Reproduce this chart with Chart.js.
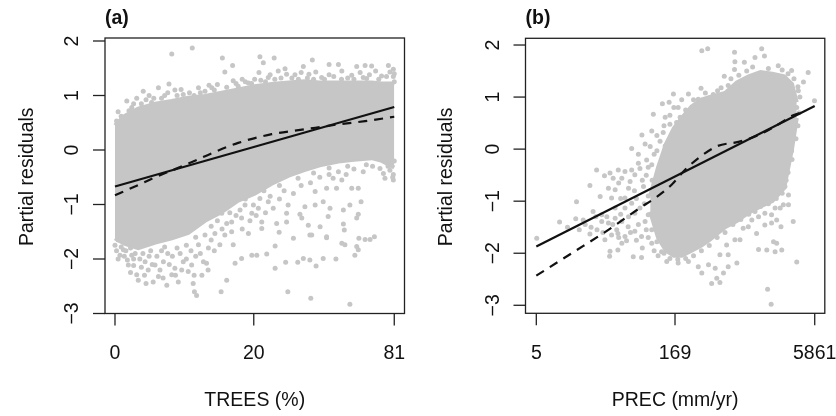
<!DOCTYPE html>
<html>
<head>
<meta charset="utf-8">
<script src="https://cdn.jsdelivr.net/npm/chart.js@4.4.1/dist/chart.umd.min.js"></script>
<style>
  html, body { margin: 0; padding: 0; background: #fff; }
  #wrap { position: relative; width: 836px; height: 416px; }
  canvas { position: absolute; top: 0; }
  #chart-trees { left: 0; }
  #chart-prec { left: 418px; }
</style>
</head>
<body>
<div id="wrap">
  <canvas id="chart-trees" width="418" height="416"></canvas>
  <canvas id="chart-prec" width="418" height="416"></canvas>
</div>
<script>
// ── Data ───────────────────────────────────────
// (a) x axis is sqrt(TREES %), (b) x axis is ln(PREC mm/yr)
const treesTicks = [0, 20, 81];
const precTicks = [5, 169, 5861];
const residTicksA = [-3, -2, -1, 0, 1, 2];
const residTicksB = [-3, -2, -1, 0, 1, 2];

// dense part of the residual cloud: upper / lower edge
const treesCoreX  = [0, 0.3, 0.75, 1.3, 1.83, 2.36, 2.9, 3.44, 3.97, 4.5, 5.05, 5.6, 6.1, 6.6, 7.2, 7.7, 8.27, 8.6, 9.0];
const treesCoreHi = [0.45, 0.62, 0.76, 0.85, 0.90, 0.96, 0.99, 1.05, 1.11, 1.17, 1.21, 1.24, 1.26, 1.24, 1.24, 1.24, 1.24, 1.22, 1.22];
const treesCoreLo = [-1.62, -1.72, -1.80, -1.70, -1.62, -1.52, -1.30, -1.14, -0.93, -0.80, -0.62, -0.47, -0.37, -0.28, -0.21, -0.18, -0.15, -0.20, -0.32];

// sparser residuals around the core
const treesPts = [
  [1.83,1.76],[2.49,1.87],[3.46,1.69],[4.67,1.71],[5.13,1.69],[6.36,1.65],[6.90,1.57],[7.20,1.57],[7.79,1.53],
  [8.06,1.55],[8.27,1.54],[8.81,1.55],[3.79,1.55],[4.78,1.60],[5.48,1.49],[6.07,1.53],[0.91,1.08],[0.38,0.90],
  [1.40,1.14],[1.74,1.21],[1.93,1.10],[2.13,1.11],[2.69,1.14],[3.03,1.19],[3.12,1.14],[3.54,1.43],[3.81,1.27],
  [3.97,1.17],[4.30,1.23],[4.64,1.42],[4.94,1.33],[5.26,1.45],[5.53,1.39],[5.91,1.30],[6.25,1.39],[6.47,1.43],
  [6.66,1.33],[7.31,1.45],[7.63,1.37],[8.11,1.31],[8.59,1.36],[8.86,1.43],[0.05,0.53],[0.54,0.78],[1.18,0.87],
  [2.26,0.90],[3.44,0.99],[0.2,0.62],[0.7,0.95],[1.0,0.92],[1.6,1.0],[2.4,1.05],[2.9,1.08],[3.3,1.2],[4.1,1.3],
  [4.5,1.3],[5.0,1.38],[5.7,1.32],[6.0,1.42],[6.9,1.38],[7.5,1.32],[7.9,1.42],[8.4,1.45],[8.97,1.35],[8.97,1.48],
  [9.0,1.25],
  [0.1,0.7],[0.45,0.72],[0.6,0.85],[0.85,0.85],[1.1,1.0],[1.25,0.95],[1.5,0.95],[1.7,1.05],[2.0,1.0],[2.2,1.02],
  [2.55,1.0],[2.75,1.05],[3.2,1.1],[3.6,1.15],[3.9,1.22],[4.2,1.25],[4.4,1.22],[4.7,1.28],[4.85,1.25],[5.15,1.3],
  [5.35,1.32],[5.8,1.38],[6.2,1.32],[6.4,1.3],[6.75,1.3],[7.05,1.35],[7.3,1.3],[7.7,1.3],[8.0,1.33],[8.2,1.38],
  [8.5,1.3],[8.75,1.35],[9.0,1.4],
  [0.16,-1.93],[0.43,-2.11],[0.70,-2.29],[0.75,-2.39],[1.07,-2.20],[1.23,-2.42],[1.40,-2.32],[1.67,-2.48],
  [1.83,-2.29],[2.04,-2.42],[2.36,-2.23],[2.52,-2.45],[2.56,-2.60],[2.63,-2.67],[2.20,-2.05],[2.47,-2.11],
  [2.95,-2.08],[3.42,-2.60],[3.60,-2.39],[3.87,-2.08],[4.08,-1.99],[4.41,-1.93],[3.81,-1.74],[3.38,-1.74],
  [3.01,-1.80],[2.69,-1.74],[3.22,-1.53],[3.54,-1.56],[2.90,-1.56],[3.76,-1.50],[4.30,-1.53],[4.08,-1.25],
  [3.76,-1.32],[3.44,-1.16],[4.03,-1.10],[4.41,-1.16],[4.19,-1.01],[4.46,-1.01],[0.97,-2.05],[1.29,-2.11],
  [1.56,-2.05],[1.93,-2.17],[0.54,-1.93],[0.27,-1.83],
  [5.57,-2.60],[6.31,-2.72],[7.57,-2.83],[5.16,-2.17],[5.50,-2.06],[5.89,-2.06],[6.07,-1.99],[6.28,-2.02],
  [6.48,-2.13],[6.71,-1.99],[7.12,-2.00],[4.89,-1.91],[4.57,-1.93],[5.16,-1.76],[5.75,-1.62],[6.28,-1.56],
  [6.82,-1.59],[7.31,-1.71],[7.41,-1.74],[7.73,-1.93],[7.84,-1.83],[7.86,-1.62],[8.06,-1.64],[8.22,-1.64],
  [8.36,-1.59],[7.39,-1.47],[7.36,-1.36],[7.79,-1.25],[7.84,-1.18],[7.57,-1.01],[7.93,-0.95],[4.73,-1.32],
  [4.73,-1.44],[5.21,-1.35],[5.29,-1.51],[5.53,-1.32],[5.96,-1.18],[6.02,-1.25],[6.23,-1.38],[6.34,-1.56],
  [6.61,-1.41],[6.82,-1.61],[6.87,-1.22],[6.93,-1.07],[7.36,-1.10],[6.45,-1.01],[6.71,-0.95],[6.12,-1.04],
  [5.58,-1.01],[5.53,-1.16],[5.10,-1.07],[4.94,-0.95],[4.62,-1.07],[4.67,-0.89],[7.14,-0.70],[7.63,-0.70],
  [7.84,-0.70],[6.82,-0.70],[6.45,-0.76],[7.31,-0.55],[7.03,-0.52],[8.54,-0.34],[8.70,-0.52],[8.86,-0.37],
  [7.79,-1.77],[8.65,-0.43],[8.95,-0.50],
  [0.0,-1.75],[0.1,-1.65],[0.3,-1.95],[0.6,-2.0],[0.9,-1.9],[1.1,-1.95],[1.5,-1.85],[1.7,-1.9],[2.0,-1.8],
  [2.3,-1.75],[2.6,-1.6],[3.1,-1.4],[3.3,-1.3],[3.7,-1.15],[4.2,-0.9],[4.8,-0.75],[5.3,-0.65],[5.9,-0.52],
  [6.4,-0.42],[6.9,-0.33],[7.5,-0.3],[8.1,-0.27],[8.97,-0.45],[8.97,-0.55],[9.0,-0.2],[2.8,-2.3],[3.0,-2.2],
  [1.0,-2.45],[0.5,-2.25],
  [0.05,-1.85],[0.1,-2.0],[0.2,-1.78],[0.35,-1.85],[0.4,-2.02],[0.5,-1.8],[0.6,-2.12],[0.65,-1.9],[0.8,-2.0],
  [0.85,-2.15],[0.95,-2.3],[1.15,-1.85],[1.2,-2.1],[1.35,-1.95],[1.45,-2.2],[1.55,-2.35],[1.6,-1.78],[1.75,-2.1],
  [1.85,-1.95],[1.95,-2.3],[2.1,-1.9],[2.15,-2.2],[2.3,-2.0],[2.45,-1.85],[2.55,-2.3],[2.6,-1.95],[2.75,-1.9],
  [2.85,-2.05],[3.1,-1.65],[3.2,-1.85],[3.45,-1.45],[3.6,-1.35],[3.9,-1.2],[4.1,-1.45],[4.35,-1.3],[4.55,-1.2],
  [4.85,-1.15],[5.0,-0.85],[5.3,-0.9],[5.45,-0.75],[5.75,-0.8],[6.0,-0.65],[6.3,-0.6],[6.6,-0.5],[6.9,-0.45],
  [7.2,-0.4],[7.45,-0.45],[7.7,-0.35],[8.0,-0.4],[8.3,-0.3],[8.8,-0.3]
];

const treesFitX = [0, 9];
const treesFitY = [-0.67, 0.79];
const treesGamX = [0, 0.72, 1.29, 1.9, 2.52, 3.0, 3.97, 5.05, 6.12, 7.2, 8.06, 9];
const treesGamY = [-0.83, -0.65, -0.50, -0.36, -0.21, -0.09, 0.13, 0.29, 0.38, 0.47, 0.53, 0.61];

const precCoreX  = [4.5, 4.7, 4.9, 5.1, 5.3, 5.55, 5.8, 6.0, 6.4, 6.7, 7.0, 7.3, 7.6, 7.9, 8.1, 8.22];
const precCoreHi = [-0.9, -0.35, 0.1, 0.4, 0.6, 0.82, 0.95, 1.0, 1.08, 1.28, 1.4, 1.48, 1.45, 1.4, 1.25, 0.9];
const precCoreLo = [-1.2, -1.7, -1.95, -2.05, -2.05, -1.95, -1.85, -1.75, -1.5, -1.38, -1.22, -1.1, -1.0, -0.75, 0.0, 0.6];

const precPts = [
  [1.62,-1.71],[2.63,-1.01],[2.61,-1.34],[2.97,-0.70],[3.14,-0.40],[3.23,-0.91],[3.34,-0.51],[2.80,-1.36],
  [2.97,-1.63],[3.12,-1.30],[3.27,-1.39],[3.35,-1.74],[3.48,-1.96],[3.48,-0.46],[3.56,-0.56],[3.69,-0.40],
  [3.78,-0.56],[3.86,-0.43],[4.03,-0.40],[4.11,-0.49],[4.24,-0.37],[4.20,-0.27],[4.41,-0.21],[4.54,-0.30],
  [3.99,-0.62],[4.33,-0.72],[3.61,-0.78],[3.44,-0.75],[3.52,-0.94],[3.86,-0.94],[4.03,-1.04],[4.24,-1.13],
  [3.86,-1.13],[3.61,-1.33],[3.44,-1.42],[3.78,-1.39],[3.94,-1.49],[4.11,-1.58],[4.28,-1.68],[3.86,-1.68],
  [3.78,-1.81],[3.90,-1.76],[4.07,-2.07],[4.28,-2.08],[3.52,-1.65],[3.65,-1.55],[3.27,-1.26],[3.61,-1.13],
  [4.11,-1.23],[4.45,-1.26],[4.37,-1.39],[4.54,-1.55],[4.54,-1.81],[4.79,-1.97],[4.92,-2.16],[4.67,-1.78],
  [4.79,-1.01],[4.67,-0.82],[4.79,-0.49],[4.92,-0.37],[3.47,-2.06],[3.68,-1.62],[3.68,-1.94],
  [2.2,-1.4],[2.4,-1.5],[2.7,-1.55],[2.85,-1.45],[3.0,-1.5],[3.05,-1.2],[3.15,-1.55],[3.3,-1.6],[3.4,-1.3],
  [3.55,-1.45],[3.7,-1.7],[3.75,-1.25],[3.95,-1.3],[4.0,-1.6],[4.15,-1.75],[4.2,-1.45],[4.3,-1.9],[4.4,-1.55],
  [4.45,-1.7],[4.6,-1.95],[4.7,-2.05],[4.35,-1.05],[4.45,-0.9],[4.55,-0.6],[4.4,-0.5],[4.6,-0.1],[4.75,0.15],
  [4.5,0.05],[4.2,-0.1],[4.85,0.45],[5.0,0.65],[5.1,0.8],[5.3,0.95],[5.35,0.45],[4.95,-0.2],[4.45,-0.35],
  [4.3,-0.6],[4.1,-0.8],[3.95,-0.75],[3.7,-0.65],[3.75,-0.95],[4.15,-0.95],
  [5.81,1.89],[5.96,1.93],[6.64,1.86],[7.33,1.93],[6.65,1.68],[7.16,1.76],[7.40,1.79],[6.64,1.53],[6.38,1.40],
  [6.89,1.67],[7.75,1.60],[8.09,1.51],[8.51,1.47],[8.39,1.29],[8.67,0.93],[8.26,1.12],[8.22,0.80],[5.79,1.17],
  [6.21,1.12],[6.02,0.99],[5.72,0.96],[5.47,1.06],[5.09,1.06],[4.81,0.87],[4.98,0.90],[4.58,0.67],[5.21,0.80],
  [5.26,0.61],[4.88,0.61],[5.00,0.48],[5.17,0.51],[4.54,0.35],[4.29,0.27],[4.37,0.10],[4.03,0.01],[4.67,0.26],
  [4.83,0.32],[4.88,0.06],[4.67,-0.03],[5.13,0.26],[6.48,1.22],[6.82,1.22],[7.84,-0.07],[8.09,-0.03],
  [8.13,-1.39],[8.22,-2.17],[7.48,-2.69],[7.57,-2.98],[7.25,-1.93],[7.46,-1.94],[7.63,-1.78],[7.71,-1.81],
  [7.84,-1.94],[7.67,-1.97],[7.82,-1.49],[7.71,-1.36],[7.58,-1.42],[7.41,-1.46],[7.20,-1.62],[6.99,-1.49],
  [6.86,-1.52],[6.65,-1.74],[6.70,-2.19],[6.48,-2.26],[6.36,-2.38],[6.19,-2.48],[6.06,-2.58],[6.27,-2.56],
  [5.81,-2.38],[5.72,-2.26],[5.98,-2.22],[6.15,-2.29],[5.21,-2.19],[5.47,-2.16],[7.41,-1.23],[7.25,-1.30],
  [7.58,-1.26],[7.67,-1.13],[7.80,-1.13],[7.88,-1.07],[7.16,-1.20],[7.08,-1.36],[6.78,-1.74],[6.48,-2.03],
  [6.27,-2.03],[6.44,-1.84],[8.01,-1.07],[8.01,-0.88],[7.92,-0.72],
  [5.4,0.75],[5.6,0.95],[5.9,1.08],[6.1,1.05],[6.3,1.18],[6.55,1.35],[6.75,1.42],[6.95,1.5],[7.1,1.58],
  [7.5,1.55],[7.85,1.52],[8.0,1.45],[8.15,1.35],[8.25,1.2],[8.3,1.0],[8.28,0.7],[8.25,0.45],[8.2,0.2],
  [8.1,-0.2],[8.0,-0.45],[7.95,-0.6],
  [7.85,-0.85],[7.7,-0.95],[7.5,-1.05],[7.3,-1.1],[7.0,-1.25],[6.8,-1.35],[6.6,-1.45],[6.4,-1.6],[6.2,-1.7],
  [6.0,-1.85],[5.8,-1.95],[5.6,-2.05],[5.4,-2.1],[5.2,-2.12],[5.0,-2.1],[4.85,-2.0]
];

const precFitX = [1.609, 8.676];
const precFitY = [-1.87, 0.83];
const precGamX = [1.609, 2.55, 3.40, 4.24, 4.66, 5.05, 5.38, 5.80, 6.21, 6.74, 7.25, 7.85, 8.1, 8.4];
const precGamY = [-2.43, -1.98, -1.57, -1.13, -0.92, -0.68, -0.40, -0.13, 0.06, 0.14, 0.27, 0.52, 0.64, 0.72];

// ── Styling ────────────────────────────────────
const GREY = '#c6c6c6';
const INK = '#111';
const FONT = '"Liberation Sans", Arial, Helvetica, sans-serif';

function xy(xs, ys) { return xs.map((x, i) => ({ x, y: ys[i] })); }
function pairs(arr) { return arr.map(p => ({ x: p[0], y: p[1] })); }
function minus(v) { return v < 0 ? '\u2212' + Math.abs(v) : String(v); }

// R-style box, axes and labels drawn from the chart's own scales
function rFrame(cfg) {
  return {
    id: 'rFrame',
    afterDraw(chart) {
      const ctx = chart.ctx, a = chart.chartArea;
      const xs = chart.scales.x, ys = chart.scales.y;
      const seg = (x1, y1, x2, y2) => { ctx.beginPath(); ctx.moveTo(x1, y1); ctx.lineTo(x2, y2); ctx.stroke(); };
      ctx.save();
      ctx.strokeStyle = '#222';
      ctx.fillStyle = INK;
      ctx.lineWidth = 1.3;
      ctx.strokeRect(a.left, a.top, a.right - a.left, a.bottom - a.top);

      ctx.font = '19.5px ' + FONT;
      ctx.textAlign = 'center';
      ctx.textBaseline = 'alphabetic';
      cfg.xTicks.forEach(t => {
        const px = xs.getPixelForValue(cfg.xMap(t));
        seg(px, a.bottom, px, a.bottom + 12);
        ctx.fillText(String(t), px, 358.5);
      });
      cfg.yTicks.forEach(t => {
        const py = ys.getPixelForValue(t);
        seg(a.left - 12, py, a.left, py);
        ctx.save();
        ctx.translate(a.left - 27, py);
        ctx.rotate(-Math.PI / 2);
        ctx.fillText(minus(t), 0, 0);
        ctx.restore();
      });

      ctx.fillText(cfg.xTitle, (a.left + a.right) / 2, 406);
      ctx.save();
      ctx.translate(cfg.yTitleX, (a.top + a.bottom) / 2 + 1);
      ctx.rotate(-Math.PI / 2);
      ctx.fillText('Partial residuals', 0, 0);
      ctx.restore();

      ctx.font = 'bold 19.5px ' + FONT;
      ctx.textAlign = 'left';
      ctx.fillText(cfg.tag, a.left, 23.5);
      ctx.restore();
    }
  };
}

function makePanel(canvasId, d) {
  const ctx = document.getElementById(canvasId);
  return new Chart(ctx, {
    type: 'scatter',
    data: {
      datasets: [
        { type: 'line', data: xy(d.coreX, d.coreHi), fill: '+1', backgroundColor: GREY,
          borderColor: GREY, borderWidth: 4, pointRadius: 0, tension: 0, order: 3 },
        { type: 'line', data: xy(d.coreX, d.coreLo), fill: false,
          borderColor: GREY, borderWidth: 4, pointRadius: 0, tension: 0, order: 3 },
        { data: pairs(d.pts), backgroundColor: GREY, borderWidth: 0, pointRadius: 2.5, order: 2 },
        { type: 'line', data: xy(d.fitX, d.fitY), borderColor: INK, borderWidth: 2.2,
          pointRadius: 0, fill: false, order: 1 },
        { type: 'line', data: xy(d.gamX, d.gamY), borderColor: INK, borderWidth: 2.2,
          borderDash: [9, 7], pointRadius: 0, fill: false, cubicInterpolationMode: 'monotone', order: 0 },
      ]
    },
    options: {
      responsive: false,
      animation: false,
      devicePixelRatio: 1,
      events: [],
      layout: { padding: d.pad },
      plugins: { legend: { display: false }, tooltip: { enabled: false } },
      scales: {
        x: { type: 'linear', display: false, min: d.xMin, max: d.xMax },
        y: { type: 'linear', display: false, min: d.yMin, max: d.yMax },
      }
    },
    plugins: [rFrame(d.frame)]
  });
}

makePanel('chart-trees', {
  coreX: treesCoreX, coreHi: treesCoreHi, coreLo: treesCoreLo, pts: treesPts,
  fitX: treesFitX, fitY: treesFitY, gamX: treesGamX, gamY: treesGamY,
  pad: { left: 105, right: 13.5, top: 38, bottom: 102.5 },
  xMin: -0.322, xMax: 9.33, yMin: -3.0, yMax: 2.055,
  frame: { tag: '(a)', xTitle: 'TREES (%)', xTicks: treesTicks, xMap: Math.sqrt,
           yTicks: residTicksA, yTitleX: 33 }
});

makePanel('chart-prec', {
  coreX: precCoreX, coreHi: precCoreHi, coreLo: precCoreLo, pts: precPts,
  fitX: precFitX, fitY: precFitY, gamX: precGamX, gamY: precGamY,
  pad: { left: 107.5, right: 11.2, top: 38.3, bottom: 102.7 },
  xMin: 1.335, xMax: 8.932, yMin: -3.154, yMax: 2.129,
  frame: { tag: '(b)', xTitle: 'PREC (mm/yr)', xTicks: precTicks, xMap: Math.log,
           yTicks: residTicksB, yTitleX: 34 }
});
</script>
</body>
</html>
